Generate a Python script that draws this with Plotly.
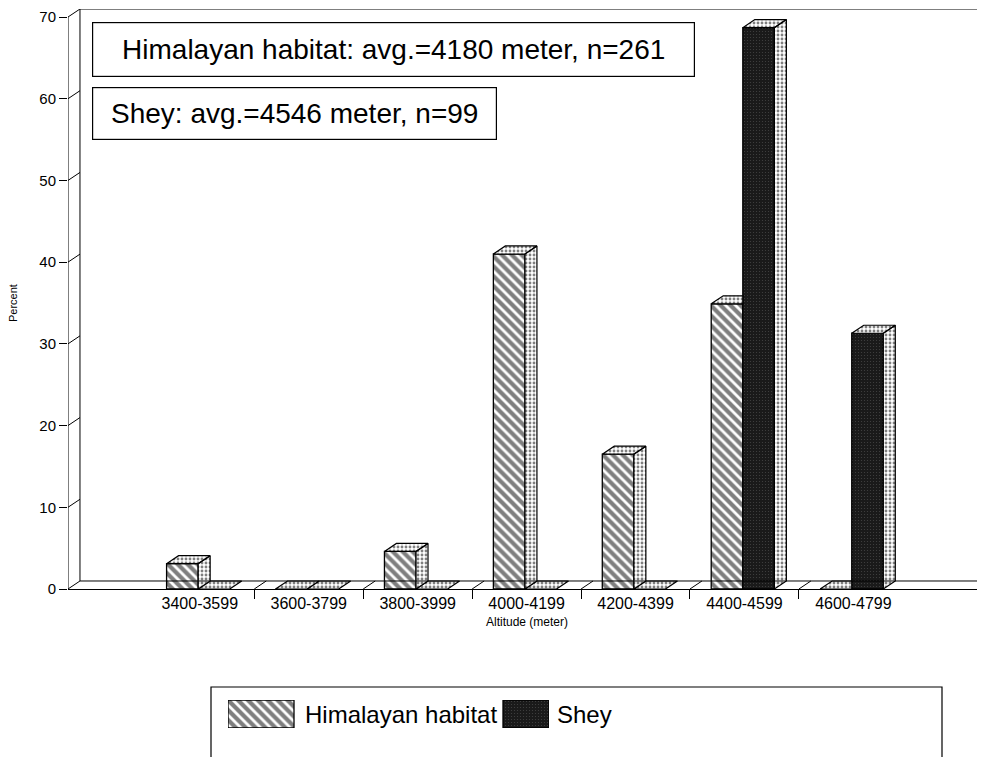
import plotly.graph_objects as go

# ---------------- data ----------------
categories = ["3400-3599", "3600-3799", "3800-3999", "4000-4199",
              "4200-4399", "4400-4599", "4600-4799"]
himalayan = [3.1, 0, 4.6, 41.0, 16.5, 34.9, 0]
shey = [0, 0, 0, 0, 0, 68.7, 31.3]
y_ticks = [0, 10, 20, 30, 40, 50, 60, 70]
series_names = ["Himalayan habitat", "Shey"]
notes = ["Himalayan habitat: avg.=4180 meter, n=261",
         "Shey: avg.=4546 meter, n=99"]
x_title = "Altitude (meter)"
y_title = "Percent"

# ---------------- geometry ----------------
W, H = 985, 757
PAGE_OFF = 8                              # default page body margin
PL, PR, PT, PB = 68, 983, 9, 589          # plot area in screen pixels
X_RANGE = [-1.21, 7.19]
Y_RANGE = [0, 70.98]
DX, DY = 0.11, 0.98                       # 3-D depth offsets (data units)
BAR_W = 0.29
OFF_H, OFF_S = -0.305, -0.015
FONT = "Liberation Sans, Arial, sans-serif"

HIM_PATTERN = dict(shape="\\", fgcolor="black", bgcolor="white", size=7, solidity=0.6)
SHEY_PATTERN = dict(shape=".", fgcolor="#6a6a6a", bgcolor="#1a1a1a", size=3, solidity=0.12)


def px(x):
    return (x - PAGE_OFF) / W


def py(y):
    return 1 - (y - PAGE_OFF) / H


n = len(categories)
idx = list(range(n))
xmin, xmax = X_RANGE

fig = go.Figure()

# front faces
fig.add_trace(go.Bar(
    x=idx, y=himalayan, width=BAR_W, offset=OFF_H, name=series_names[0],
    marker=dict(color="white", line=dict(color="black", width=1.3),
                pattern=HIM_PATTERN),
    showlegend=False, hoverinfo="skip"))
fig.add_trace(go.Bar(
    x=idx, y=shey, width=BAR_W, offset=OFF_S, name=series_names[1],
    marker=dict(color="#1c1c1c", line=dict(color="black", width=1.3),
                pattern=SHEY_PATTERN),
    showlegend=False, hoverinfo="skip"))


def faces(values, offset, other=None):
    xs, ys = [], []
    for i, v in enumerate(values):
        x0 = i + offset
        x1 = x0 + BAR_W
        clip = other is not None and other[i] > 0
        if clip:
            xs += [x0, x0 + DX, x1, x1, x0, None]
            ys += [v, v + DY, v + DY, v, v, None]
        else:
            xs += [x0, x0 + DX, x1 + DX, x1, x0, None]
            ys += [v, v + DY, v + DY, v, v, None]
            if v > 0:
                xs += [x1, x1 + DX, x1 + DX, x1, x1, None]
                ys += [0, DY, v + DY, v, 0, None]
    return xs, ys


stipple = dict(shape=".", fgcolor="black", bgcolor="white", size=4, solidity=0.4)
for vals, off, other in [(shey, OFF_S, None), (himalayan, OFF_H, shey)]:
    fx, fy = faces(vals, off, other)
    fig.add_trace(go.Scatter(x=fx, y=fy, mode="lines", fill="toself",
                             fillcolor="white", fillpattern=stipple,
                             line=dict(color="black", width=1.2),
                             showlegend=False, hoverinfo="skip"))

shapes = []
line_k = dict(color="black", width=1)
shapes.append(dict(type="line", xref="x", yref="y", x0=xmin, x1=xmin,
                   y0=-1.3, y1=y_ticks[-1], line=line_k))
shapes.append(dict(type="line", xref="x", yref="y", x0=xmin + DX, x1=xmin + DX,
                   y0=DY, y1=y_ticks[-1] + DY, line=line_k))
shapes.append(dict(type="line", xref="x", yref="y", x0=xmin + DX, x1=xmax,
                   y0=y_ticks[-1] + DY, y1=y_ticks[-1] + DY, line=line_k))
shapes.append(dict(type="line", xref="x", yref="y", x0=xmin + DX, x1=xmax,
                   y0=DY, y1=DY, line=line_k))
for t in y_ticks:
    shapes.append(dict(type="line", xref="x", yref="y", x0=xmin, x1=xmin + DX,
                       y0=t, y1=t + DY, line=line_k))
for i in range(n - 1):
    b = i + 0.5
    shapes.append(dict(type="line", xref="x", yref="y", x0=b, x1=b + DX,
                       y0=0, y1=DY, line=line_k))

# legend box
shapes.append(dict(type="rect", xref="paper", yref="paper",
                   x0=px(211), x1=px(942), y0=py(770), y1=py(687),
                   line=dict(color="black", width=1.2), fillcolor="white",
                   layer="below"))

annotations = []
annotations.append(dict(xref="paper", yref="paper", x=px(393.5), y=py(49.5),
                        xanchor="center", yanchor="middle",
                        text=notes[0], showarrow=False, width=601, height=53,
                        bordercolor="black", borderwidth=1.2, borderpad=0,
                        bgcolor="white",
                        font=dict(family=FONT, size=28, color="black")))
annotations.append(dict(xref="paper", yref="paper", x=px(294.5), y=py(113.5),
                        xanchor="center", yanchor="middle",
                        text=notes[1], showarrow=False, width=403, height=51,
                        bordercolor="black", borderwidth=1.2, borderpad=0,
                        bgcolor="white",
                        font=dict(family=FONT, size=28, color="black")))
annotations.append(dict(xref="paper", yref="paper", x=px(527), y=py(622),
                        xanchor="center", yanchor="middle",
                        text=x_title, showarrow=False,
                        font=dict(family=FONT, size=12, color="black")))
annotations.append(dict(xref="paper", yref="paper", x=px(13), y=py(303),
                        xanchor="center", yanchor="middle",
                        text=y_title, showarrow=False, textangle=-90,
                        font=dict(family=FONT, size=11, color="black")))
annotations.append(dict(xref="paper", yref="paper", x=px(303), y=py(714),
                        xanchor="left", yanchor="middle",
                        text=series_names[0], showarrow=False,
                        font=dict(family=FONT, size=24, color="black")))
annotations.append(dict(xref="paper", yref="paper", x=px(555), y=py(714),
                        xanchor="left", yanchor="middle",
                        text=series_names[1], showarrow=False,
                        font=dict(family=FONT, size=24, color="black")))

# legend swatches on an inset axis (screen-pixel units)
sw_x = [261, 526]
sw_w = [66, 46]
fig.add_trace(go.Bar(
    x=[sw_x[0]], y=[1], width=[sw_w[0]], xaxis="x2", yaxis="y2",
    marker=dict(color="white", line=dict(color="black", width=1.3),
                pattern=HIM_PATTERN),
    showlegend=False, hoverinfo="skip"))
fig.add_trace(go.Bar(
    x=[sw_x[1]], y=[1], width=[sw_w[1]], xaxis="x2", yaxis="y2",
    marker=dict(color="#1c1c1c", line=dict(color="black", width=1.3),
                pattern=SHEY_PATTERN),
    showlegend=False, hoverinfo="skip"))

fig.update_layout(
    width=W, height=H,
    margin=dict(l=0, r=0, t=0, b=0, autoexpand=False),
    paper_bgcolor="white", plot_bgcolor="rgba(0,0,0,0)",
    barmode="overlay",
    showlegend=False,
    font=dict(family=FONT, color="black"),
    shapes=shapes, annotations=annotations,
    xaxis=dict(domain=[px(PL), px(PR)], range=X_RANGE, showgrid=False,
               automargin=False,
               zeroline=False, showline=True, linecolor="black", linewidth=1,
               tickmode="array", tickvals=idx, ticktext=categories, ticks="",
               tickfont=dict(size=16, family=FONT, color="black"),
               ticklabelstandoff=0,
               minor=dict(tickmode="array",
                          tickvals=[i + 0.5 for i in range(n - 1)] + [xmax - 0.01],
                          ticks="outside", ticklen=9, tickcolor="black",
                          tickwidth=1, showgrid=False)),
    yaxis=dict(domain=[py(PB), py(PT)], range=Y_RANGE, showgrid=False,
               automargin=False,
               zeroline=False, showline=False,
               tickmode="array", tickvals=y_ticks, ticks="outside", ticklen=8,
               tickcolor="black", tickfont=dict(size=15, family=FONT, color="black")),
    xaxis2=dict(domain=[px(228), px(549)], range=[228, 549], visible=False,
                automargin=False, anchor="y2"),
    yaxis2=dict(domain=[py(728), py(700)], range=[0, 1], visible=False,
                automargin=False, anchor="x2"),
)

fig.write_html("out.html")
